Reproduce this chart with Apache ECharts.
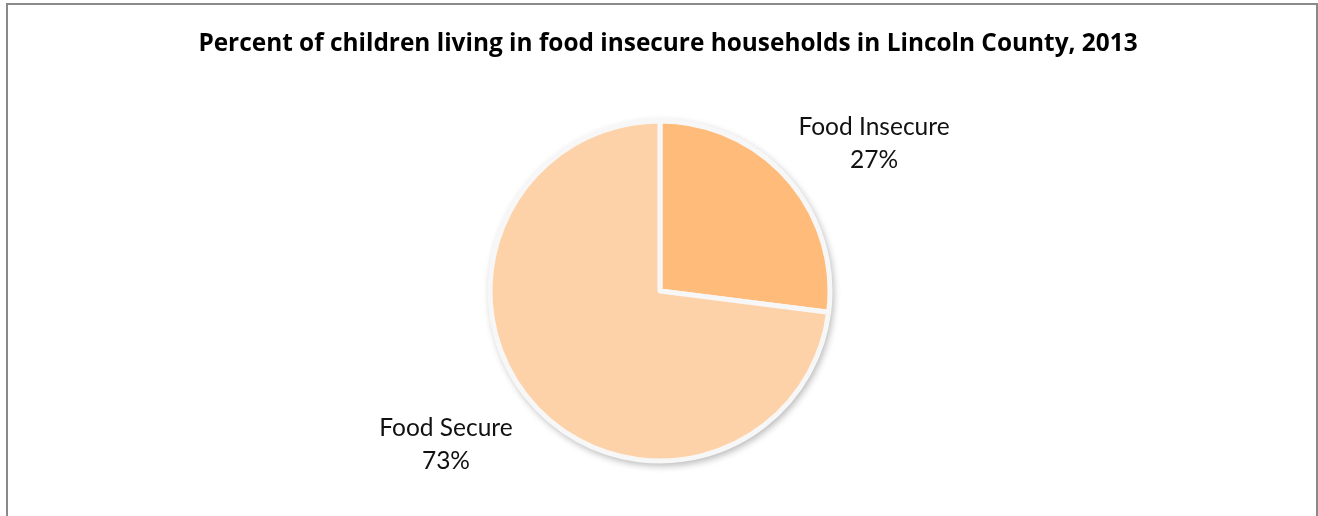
<!DOCTYPE html>
<html><head><meta charset="utf-8">
<script src="https://cdn.jsdelivr.net/npm/echarts@6/dist/echarts.min.js"></script>
<style>
html,body{margin:0;padding:0;background:#fff;overflow:hidden}
#chart{position:absolute;left:0;top:0;width:1318px;height:516px}
#frame{position:absolute;left:6px;top:3px;width:1308px;height:540px;border:2px solid #8a8a8a;pointer-events:none}
</style></head>
<body>
<div id="chart"></div>
<div id="frame"></div>
<script>
const titleText = 'Percent of children living in food insecure households in Lincoln County, 2013';
const categories = ['Food Insecure', 'Food Secure'];
const values = [27, 73];
const colors = ['#FFBB7A', '#FED2A8'];

const chart = echarts.init(document.getElementById('chart'), null, {renderer: 'canvas'});
chart.setOption({
  animation: false,
  title: {
    text: titleText, left: 663, top: 27, textAlign: 'center',
    textStyle: {fontFamily: 'Open Sans', fontWeight: 'bold', fontSize: 24.4, color: '#000'}
  },
  series: [
    {
      type: 'pie', silent: true, z: 1,
      center: [660, 291], radius: 172,
      label: {show: false}, labelLine: {show: false},
      itemStyle: {color: '#f7f7f7', shadowBlur: 7, shadowColor: 'rgba(0,0,0,0.28)', shadowOffsetX: 2, shadowOffsetY: 3},
      data: [{value: values.reduce((a, b) => a + b, 0)}]
    },
    {
      type: 'pie', z: 2,
      center: [660, 291], radius: 170,
      startAngle: 90, clockwise: true,
      itemStyle: {borderColor: '#f7f7f7', borderWidth: 5},
      label: {
        show: true, position: 'outside',
        formatter: p => p.name + '\n' + p.value + '%',
        fontFamily: 'Lato', fontSize: 24.5, lineHeight: 33, color: '#111',
        align: 'center'
      },
      labelLine: {show: false, length: 58, length2: 38},
      labelLayout: {align: 'center', dy: 3},
      data: categories.map((c, i) => ({name: c, value: values[i], itemStyle: {color: colors[i]}}))
    }
  ]
});
</script>
</body></html>
